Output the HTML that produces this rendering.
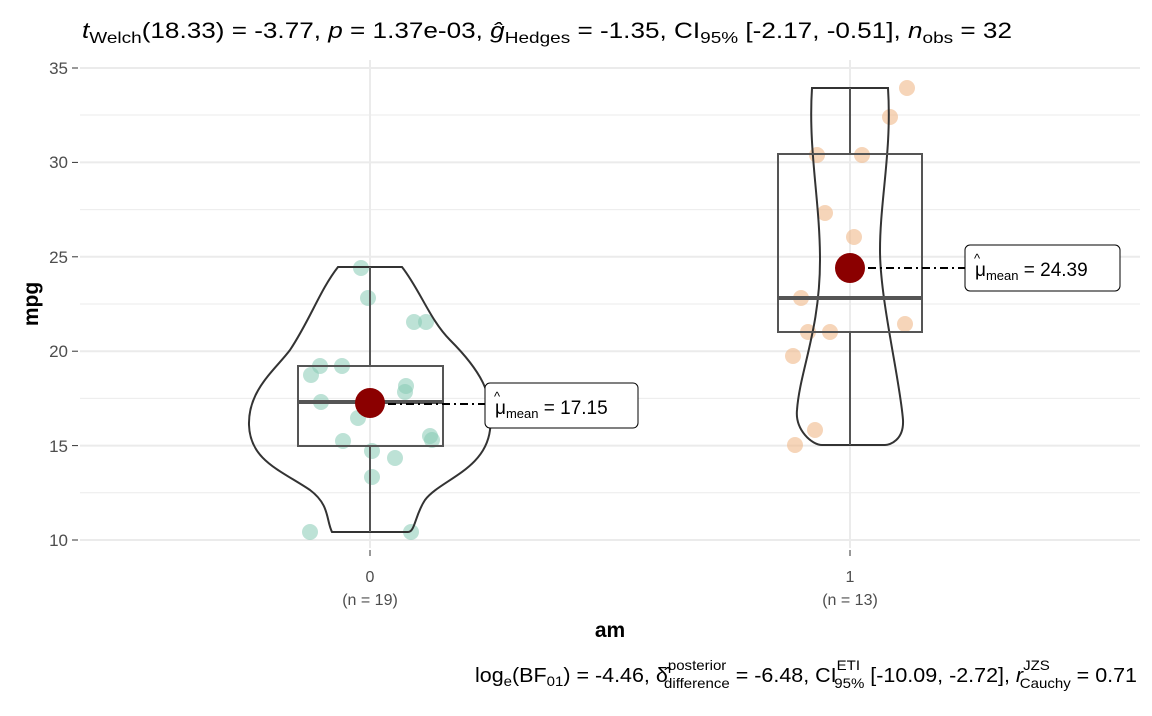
<!DOCTYPE html><html><head><style>body{margin:0;background:#fff}svg text{font-family:"Liberation Sans",sans-serif}</style></head><body>
<svg width="1152" height="711" xmlns="http://www.w3.org/2000/svg">
<g stroke="#ebebeb" stroke-width="1"><line x1="80" x2="1140" y1="115" y2="115"/><line x1="80" x2="1140" y1="209.6" y2="209.6"/><line x1="80" x2="1140" y1="304" y2="304"/><line x1="80" x2="1140" y1="398.4" y2="398.4"/><line x1="80" x2="1140" y1="492.8" y2="492.8"/></g>
<g stroke="#ebebeb" stroke-width="2"><line x1="80" x2="1140" y1="68" y2="68"/><line x1="80" x2="1140" y1="162.4" y2="162.4"/><line x1="80" x2="1140" y1="256.8" y2="256.8"/><line x1="80" x2="1140" y1="351.2" y2="351.2"/><line x1="80" x2="1140" y1="445.6" y2="445.6"/><line x1="80" x2="1140" y1="540" y2="540"/><line x1="370" x2="370" y1="60" y2="548"/><line x1="850" x2="850" y1="60" y2="548"/></g>
<g font-size="17" fill="#4d4d4d" text-anchor="end"><text x="68" y="74">35</text><text x="68" y="168">30</text><text x="68" y="263">25</text><text x="68" y="357">20</text><text x="68" y="452">15</text><text x="68" y="546">10</text></g>
<g stroke="#333"><line x1="72" x2="78" y1="68" y2="68"/><line x1="72" x2="78" y1="162.4" y2="162.4"/><line x1="72" x2="78" y1="256.8" y2="256.8"/><line x1="72" x2="78" y1="351.2" y2="351.2"/><line x1="72" x2="78" y1="445.6" y2="445.6"/><line x1="72" x2="78" y1="540" y2="540"/><line x1="370" x2="370" y1="550" y2="556"/><line x1="850" x2="850" y1="550" y2="556"/></g>
<g font-size="16" fill="#4d4d4d" text-anchor="middle"><text x="370" y="582">0</text><text x="370" y="605">(n = 19)</text><text x="850" y="582">1</text><text x="850" y="605">(n = 13)</text></g>
<text x="610" y="637" font-size="21" font-weight="bold" text-anchor="middle">am</text>
<text transform="translate(38,304) rotate(-90)" font-size="21" font-weight="bold" text-anchor="middle">mpg</text>
<g fill="#86cbb4" fill-opacity="0.55">
<circle cx="361" cy="268" r="8"/><circle cx="368" cy="298" r="8"/><circle cx="414" cy="322" r="8"/><circle cx="426" cy="322" r="8"/><circle cx="320" cy="366" r="8"/><circle cx="342" cy="366" r="8"/><circle cx="311" cy="375" r="8"/><circle cx="406" cy="386" r="8"/><circle cx="405" cy="392" r="8"/><circle cx="321" cy="402" r="8"/><circle cx="358" cy="418" r="8"/><circle cx="430" cy="436" r="8"/><circle cx="432" cy="440" r="8"/><circle cx="343" cy="441" r="8"/><circle cx="372" cy="451" r="8"/><circle cx="395" cy="458" r="8"/><circle cx="372" cy="477" r="8"/><circle cx="310" cy="532" r="8"/><circle cx="411" cy="532" r="8"/></g>
<g fill="#f0b98a" fill-opacity="0.6">
<circle cx="907" cy="88" r="8"/><circle cx="890" cy="117" r="8"/><circle cx="817" cy="155" r="8"/><circle cx="862" cy="155" r="8"/><circle cx="825" cy="213" r="8"/><circle cx="854" cy="237" r="8"/><circle cx="801" cy="298" r="8"/><circle cx="808" cy="332" r="8"/><circle cx="830" cy="332" r="8"/><circle cx="905" cy="324" r="8"/><circle cx="793" cy="356" r="8"/><circle cx="815" cy="430" r="8"/><circle cx="795" cy="445" r="8"/></g>
<g fill="none" stroke="#333" stroke-width="2">
<path d="M338,267 L402,267 C420,290 430,320 450,340 C480,370 495,395 490,430 C485,470 440,480 425,500 C415,515 415,532 408,532 L332,532 C326,520 330,505 310,490 C280,470 250,460 249,425 C248,390 275,370 290,350 C310,320 320,290 338,267 Z"/>
<path d="M812,88 L888,88 C892,150 880,200 880,250 C880,300 900,380 903,420 C904,440 890,445 885,445 L822,445 C812,445 795,430 797,410 C800,370 820,330 820,260 C820,200 808,150 812,88 Z"/>
</g>
<g stroke="#555" fill="none" stroke-width="2">
<line x1="370" x2="370" y1="267" y2="366"/><line x1="370" x2="370" y1="446" y2="532"/>
<rect x="298" y="366" width="145" height="80"/>
<line x1="850" x2="850" y1="88" y2="154"/><line x1="850" x2="850" y1="332" y2="445"/>
<rect x="778" y="154" width="144" height="178"/></g>
<line x1="298" x2="443" y1="402" y2="402" stroke="#555" stroke-width="4"/>
<line x1="778" x2="922" y1="298" y2="298" stroke="#555" stroke-width="4"/>
<g stroke="#000" stroke-width="2" stroke-dasharray="8,4,2,4"><line x1="370" x2="485" y1="404" y2="404"/><line x1="850" x2="965" y1="268" y2="268"/></g>
<circle cx="370" cy="403" r="15" fill="#8b0000"/><circle cx="850" cy="268" r="15" fill="#8b0000"/>
<rect x="485" y="383" width="153" height="45" rx="5" fill="#fff" stroke="#000"/>
<text x="495" y="414" font-size="19">μ<tspan font-size="13" dy="4">mean</tspan><tspan dy="-4"> = 17.15</tspan></text>
<text x="494" y="401" font-size="13">^</text>
<rect x="965" y="245" width="155" height="46" rx="5" fill="#fff" stroke="#000"/>
<text x="975" y="276" font-size="19">μ<tspan font-size="13" dy="4">mean</tspan><tspan dy="-4"> = 24.39</tspan></text>
<text x="974" y="263" font-size="13">^</text>
<text x="82" y="38" font-size="22" textLength="930" lengthAdjust="spacingAndGlyphs"><tspan font-style="italic">t</tspan><tspan font-size="16" dy="5">Welch</tspan><tspan dy="-5">(18.33) = -3.77, </tspan><tspan font-style="italic">p</tspan> = 1.37e-03, <tspan font-style="italic">ĝ</tspan><tspan font-size="16" dy="5">Hedges</tspan><tspan dy="-5"> = -1.35, CI</tspan><tspan font-size="16" dy="5">95%</tspan><tspan dy="-5"> [-2.17, -0.51], </tspan><tspan font-style="italic">n</tspan><tspan font-size="16" dy="5">obs</tspan><tspan dy="-5"> = 32</tspan></text>
<text x="475" y="682" font-size="20" textLength="662" lengthAdjust="spacingAndGlyphs">log<tspan font-size="14" dy="4">e</tspan><tspan dy="-4">(BF</tspan><tspan font-size="14" dy="4">01</tspan><tspan dy="-4">) = -4.46, δ̂</tspan><tspan font-size="14" dy="-12">posterior</tspan><tspan font-size="14" dx="-58" dy="18">difference</tspan><tspan dy="-6"> = -6.48, CI</tspan><tspan font-size="14" dy="-12">ETI</tspan><tspan font-size="14" dx="-24" dy="18">95%</tspan><tspan dy="-6"> [-10.09, -2.72], </tspan><tspan font-style="italic">r</tspan><tspan font-size="14" dy="-12">JZS</tspan><tspan font-size="14" dx="-28" dy="18">Cauchy</tspan><tspan dy="-6"> = 0.71</tspan></text>
</svg></body></html>
